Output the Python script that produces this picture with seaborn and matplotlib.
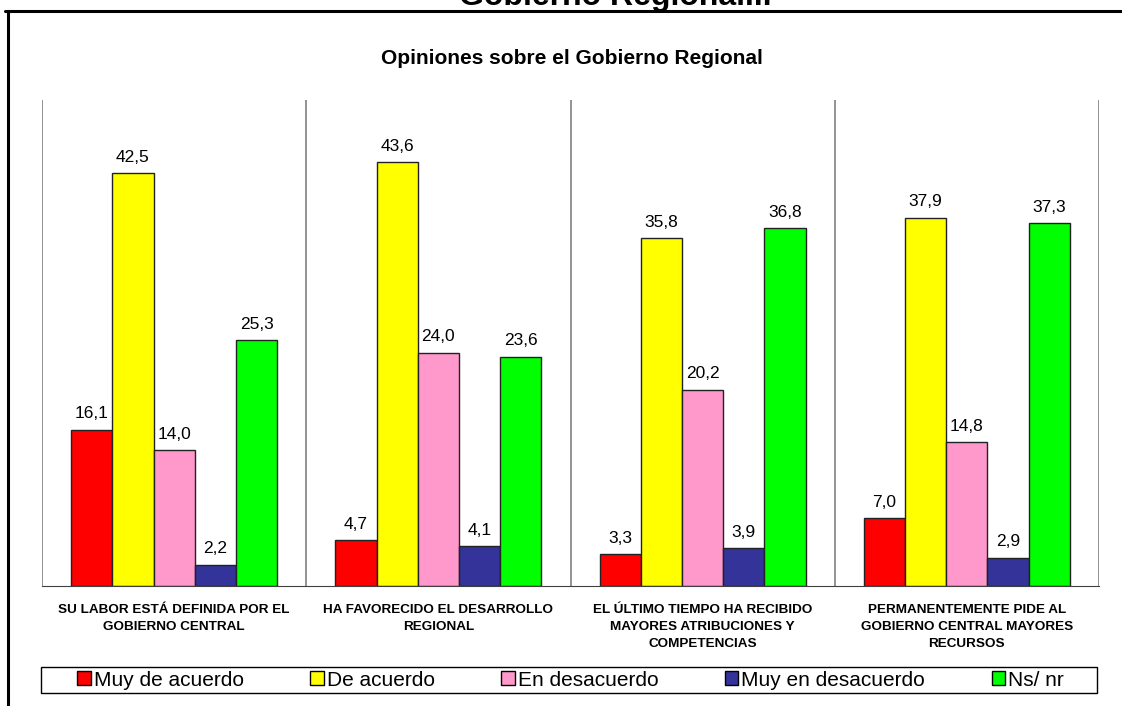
import matplotlib
matplotlib.use("Agg")
import pandas as pd
import matplotlib.pyplot as plt
import seaborn as sns
from matplotlib.lines import Line2D
from matplotlib.patches import Rectangle

sns.set_style("white")
plt.rcParams['font.family'] = ['Liberation Sans', 'DejaVu Sans']
plt.rcParams['text.color'] = 'black'
plt.rcParams['xtick.color'] = 'black'

# datos
preguntas = [
    "SU LABOR ESTÁ DEFINIDA POR EL\nGOBIERNO CENTRAL",
    "HA FAVORECIDO EL DESARROLLO\nREGIONAL",
    "EL ÚLTIMO TIEMPO HA RECIBIDO\nMAYORES ATRIBUCIONES Y\nCOMPETENCIAS",
    "PERMANENTEMENTE PIDE AL\nGOBIERNO CENTRAL MAYORES\nRECURSOS",
]
opiniones = ["Muy de acuerdo", "De acuerdo", "En desacuerdo", "Muy en desacuerdo", "Ns/ nr"]
muy_de_acuerdo = [16.1, 4.7, 3.3, 7.0]
de_acuerdo = [42.5, 43.6, 35.8, 37.9]
en_desacuerdo = [14.0, 24.0, 20.2, 14.8]
muy_en_desacuerdo = [2.2, 4.1, 3.9, 2.9]
ns_nr = [25.3, 23.6, 36.8, 37.3]
colores = ["#FF0000", "#FFFF00", "#FF99CC", "#333399", "#00FF00"]

series = [muy_de_acuerdo, de_acuerdo, en_desacuerdo, muy_en_desacuerdo, ns_nr]
filas = []
for op, vals in zip(opiniones, series):
    for p, v in zip(preguntas, vals):
        filas.append({"pregunta": p, "opinion": op, "valor": v})
df = pd.DataFrame(filas)

W, H = 1122, 706
fig = plt.figure(figsize=(W / 100, H / 100), dpi=100)
ax = fig.add_axes([42 / W, 1 - 586 / H, 1057 / W, 486 / H])

sns.barplot(data=df, x="pregunta", y="valor", hue="opinion", order=preguntas,
            hue_order=opiniones, palette=colores, width=0.78, saturation=1,
            edgecolor="#222222", linewidth=1, errorbar=None, ax=ax)

ax.set_ylim(0, 50)
ax.set_xlim(-0.5, 3.5)
ax.set_yticks([])
ax.set_xlabel("")
ax.set_ylabel("")
for s in ["top", "right", "left"]:
    ax.spines[s].set_visible(False)
ax.spines["bottom"].set_color("#404040")

ax.set_xticks(range(4))
ax.set_xticklabels(preguntas, fontsize=9.7, fontweight="bold", linespacing=1.55)
ax.tick_params(axis="x", which="major", length=0, pad=13)
ax.set_xticks([-0.5, 0.5, 1.5, 2.5, 3.5], minor=True)
ax.tick_params(axis="x", which="minor", length=5, color="#404040", width=1)
ax.grid(True, which="minor", axis="x", color="#808080", lw=1.2)
ax.set_axisbelow(True)

# etiquetas de valores
for cont in ax.containers:
    chico = cont.get_label() == "Muy de acuerdo"
    ax.bar_label(cont, labels=[f"{v:.1f}".replace(".", ",") for v in cont.datavalues],
                 fontsize=9.5 if chico else 12.5, padding=5.2 if chico else 6,
                 color="black")

# leyenda
if ax.get_legend() is not None:
    ax.get_legend().remove()
handles = [Rectangle((0, 0), 1, 1, fc=c, ec="black", lw=1) for c in colores]
fig.legend(handles, opiniones, loc="center",
           bbox_to_anchor=(77 / W, 1 - 693 / H, (1064 - 77) / W, 26 / H),
           bbox_transform=fig.transFigure, mode="expand", ncol=5, frameon=False,
           fontsize=15, handlelength=0.65, handleheight=0.65, handletextpad=0.15,
           borderpad=0, borderaxespad=0, columnspacing=1)
fig.add_artist(Rectangle((41 / W, 1 - 693 / H), (1097 - 41) / W, 26 / H,
                         transform=fig.transFigure, fill=False, ec="black", lw=1))

# títulos
fig.text(572 / W, 1 - 59 / H, "Opiniones sobre el Gobierno Regional",
         ha="center", va="center", fontsize=15, fontweight="bold")
fig.text(615 / W, 1 - 5 / H, "Gobierno Regional...", ha="center", va="baseline",
         fontsize=23, fontweight="bold")

# marco
fig.add_artist(Line2D([5 / W, 1], [1 - 10.5 / H] * 2, transform=fig.transFigure,
                      color="black", lw=2.2))
fig.add_artist(Line2D([7.5 / W] * 2, [0, 1 - 10.5 / H], transform=fig.transFigure,
                      color="black", lw=2.2))

fig.savefig("out.png", dpi=100)
